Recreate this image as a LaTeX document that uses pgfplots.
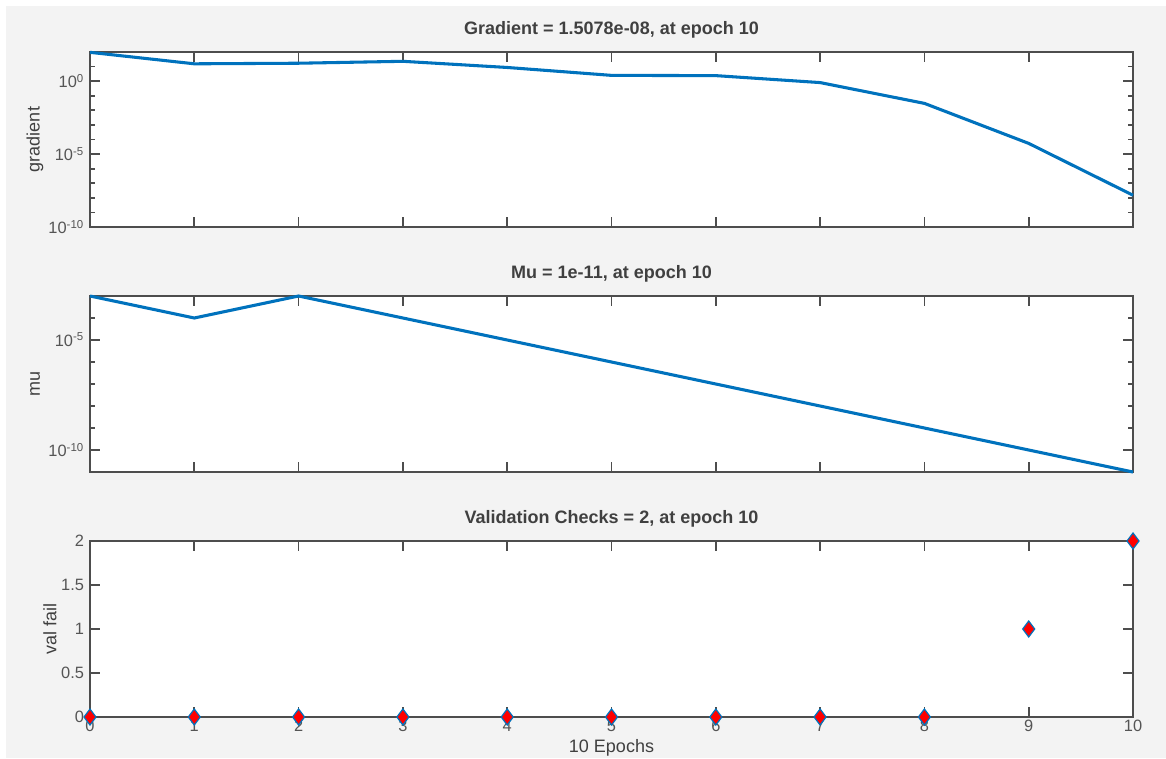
\documentclass[border=0pt]{standalone}
\usepackage{pgfplots}
\pgfplotsset{compat=1.18}
\usepackage{fontspec}
\setmainfont{Liberation Sans}
\definecolor{bg}{HTML}{F3F3F3}
\definecolor{mblue}{HTML}{0072BD}
\definecolor{axc}{HTML}{4D4D4D}
\definecolor{txt}{HTML}{404040}
\definecolor{tck}{HTML}{555555}
\pgfplotsset{
  mystyle/.style={
    width=782.25pt, height=132pt, scale only axis,
    xmin=0, xmax=10, xtick={0,1,2,3,4,5,6,7,8,9,10},
    tick align=inside,
    major tick length=7.5pt, minor tick length=3.5pt,
    axis line style={draw=axc, line width=1.3pt},
    every tick/.append style={draw=axc, line width=1.3pt},
    axis background/.style={fill=white},
    tick label style={font=\fontsize{12.3}{14}\selectfont, text=tck},
    yticklabel style={xshift=-1pt},
    xticklabel style={yshift=1.5pt},
    label style={font=\fontsize{13.5}{16}\selectfont, text=txt},
    title style={font=\fontsize{13.5}{16}\selectfont\bfseries, text=txt, at={(axis description cs:0.5,1)}, anchor=base, yshift=7pt},
    ylabel style={at={(axis description cs:-0.0527,0.5)}, anchor=center},
    clip=false,
  }
}
\begin{document}
\begin{tikzpicture}
\fill[white] (0,0) rectangle (874.5pt,568.5pt);
\fill[bg] (4.5pt,0) rectangle (874.5pt,564pt);
\useasboundingbox (0,0) rectangle (874.5pt,568.5pt);

\begin{axis}[mystyle, at={(67.5pt,398.25pt)}, anchor=south west, height=131.25pt,
  ymode=log, ymin=1e-10, ymax=1e2,
  ytick={1e-10,1e-5,1},
  yticklabels={10\textsuperscript{-10},10\textsuperscript{-5},10\textsuperscript{0}},
  minor ytick={1e-9,1e-8,1e-7,1e-6,1e-4,1e-3,1e-2,1e-1,1e1},
  xticklabels={},
  title={Gradient = 1.5078e-08, at epoch 10},
  ylabel={gradient}]
\addplot[mblue, line width=2.3pt] coordinates {(0,95)(1,15.5)(2,17)(3,23)(4,8.7)(5,2.5)(6,2.4)(7,0.8)(8,0.03)(9,5.4e-5)(10,1.5078e-8)};
\end{axis}

\begin{axis}[mystyle, at={(67.5pt,214.5pt)}, anchor=south west,
  ymode=log, ymin=1e-11, ymax=1e-3,
  ytick={1e-10,1e-5},
  yticklabels={10\textsuperscript{-10},10\textsuperscript{-5}},
  minor ytick={1e-9,1e-8,1e-7,1e-6,1e-4},
  xticklabels={},
  title={Mu = 1e-11, at epoch 10},
  ylabel={mu}]
\addplot[mblue, line width=2.3pt] coordinates {(0,1e-3)(1,1e-4)(2,1e-3)(3,1e-4)(4,1e-5)(5,1e-6)(6,1e-7)(7,1e-8)(8,1e-9)(9,1e-10)(10,1e-11)};
\end{axis}

\begin{axis}[mystyle, at={(67.5pt,30.75pt)}, anchor=south west,
  ymin=0, ymax=2,
  ytick={0,0.5,1,1.5,2},
  yticklabels={0,0.5,1,1.5,2},
  xticklabels={0,1,2,3,4,5,6,7,8,9,10},
  title={Validation Checks = 2, at epoch 10},
  ylabel={val fail},
  ylabel style={at={(axis description cs:-0.0384,0.5)}, anchor=center},
  xlabel={10 Epochs},
  xlabel style={at={(axis description cs:0.5,-0.2045)}, anchor=base}]
\addplot[only marks, mark=diamond*, mark size=6pt, mark options={fill=red, draw=mblue, line width=0.9pt}] coordinates {(0,0)(1,0)(2,0)(3,0)(4,0)(5,0)(6,0)(7,0)(8,0)(9,1)(10,2)};
\end{axis}
\end{tikzpicture}
\end{document}
